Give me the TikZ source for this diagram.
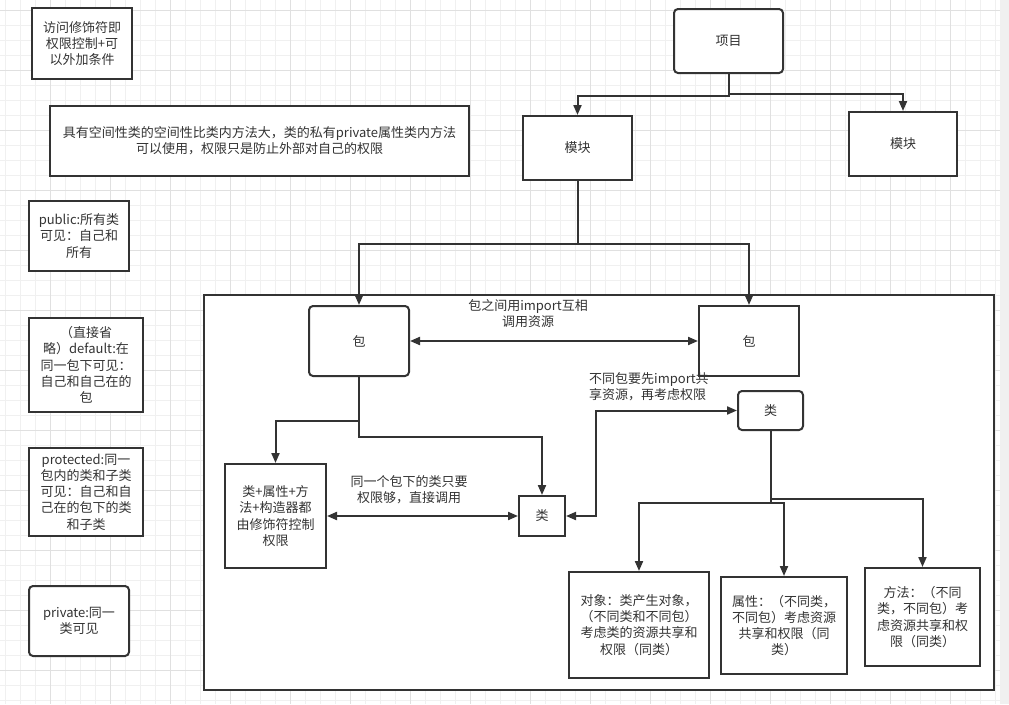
\documentclass[tikz,border=0pt]{standalone}
\usepackage{fontspec}
\setmainfont{Noto Sans CJK SC}
\usepackage{tikz}
\usetikzlibrary{arrows.meta, positioning, calc}
\definecolor{linegray}{RGB}{51,51,51}
\definecolor{gridminor}{RGB}{240,240,240}
\definecolor{gridmajor}{RGB}{224,224,224}
\definecolor{stripgray}{RGB}{240,240,240}

\begin{document}
\begin{tikzpicture}[x=1pt, y=-1pt, >={Triangle[length=10pt, width=8pt]},
    box/.style={draw=linegray, line width=2pt, fill=white, text=linegray, align=center,
        inner sep=0pt, font=\fontsize{13}{16.2}\selectfont},
    rbox/.style={box, rounded corners=4pt},
    sz/.style 2 args={minimum width=#1pt, minimum height=#2pt},
    link/.style={draw=linegray, line width=2pt},
    note/.style={text=linegray, align=center, inner sep=0pt, font=\fontsize{13}{16.2}\selectfont}]
    \useasboundingbox (0,0) rectangle (1009,704);
    % grid
    \fill[white] (0,0) rectangle (1000,704);
    \foreach \x in {5,20,...,995} \draw[gridminor] (\x,0) -- (\x,704);
    \foreach \y in {10,25,...,700} \draw[gridminor] (0,\y) -- (1000,\y);
    \foreach \x in {50,110,...,950} \draw[gridmajor] (\x,0) -- (\x,704);
    \foreach \y in {10,70,...,670} \draw[gridmajor] (0,\y) -- (1000,\y);
    \fill[stripgray] (1000,0) rectangle (1009,704);

    % left notes
    \node[box, sz={100}{71}] (acc) at (82,43.5) {访问修饰符即\\权限控制+可\\以外加条件};
    \node[box, sz={419}{70}] (space) at (259.5,141) {具有空间性类的空间性比类内方法大，类的私有private属性类内方法\\可以使用，权限只是防止外部对自己的权限};
    \node[box, sz={100}{70}] (pub) at (79,236) {public:所有类\\可见：自己和\\所有};
    \node[box, sz={114}{94}] (def) at (86,365) {（直接省\\略）default:在\\同一包下可见：\\自己和自己在的\\包};
    \node[box, sz={114}{88}] (prot) at (86,492) {protected:同一\\包内的类和子类\\可见：自己和自\\己在的包下的类\\和子类};
    \node[rbox, sz={100}{70}] (priv) at (79,621) {private:同一\\类可见};

    % project and modules
    \node[rbox, sz={109}{64}] (proj) at (728.5,41) {项目};
    \node[box, sz={109}{64}] (modA) at (577.5,148) {模块};
    \node[box, sz={108}{64}] (modB) at (903,144) {模块};

    % package area
    \node[box, sz={790}{395}] (pkgarea) at (599,492.5) {};
    \node[rbox, sz={100}{70}] (pkgA) at (359,341) {包};
    \node[box, sz={100}{70}] (pkgB) at (749,341) {包};
    \node[box, sz={101}{104}] (member) at (275.5,516) {类+属性+方\\法+构造器都\\由修饰符控制\\权限};
    \node[box, sz={46}{40}] (clsA) at (542,516) {类};
    \node[rbox, sz={65}{39}] (clsB) at (770.5,410.5) {类};
    \node[box, sz={140}{106}] (obj) at (639,625) {对象：类产生对象，\\（不同类和不同包）\\考虑类的资源共享和\\权限（同类）};
    \node[box, sz={126}{97}] (attr) at (784,625.5) {属性：（不同类，\\不同包）考虑资源\\共享和权限（同\\类）};
    \node[box, sz={115}{98}] (meth) at (922.5,617) {方法：（不同\\类，不同包）考\\虑资源共享和权\\限（同类）};

    % labels
    \node[note] (lblImport) at (528,313.5) {包之间用import互相\\调用资源};
    \node[note] (lblSame) at (409,490) {同一个包下的类只要\\权限够，直接调用};
    \node[note, align=left, anchor=west] (lblDiff) at (589,387) {不同包要先import共\\享资源，再考虑权限};

    % connectors
    \draw[link, ->] (proj.south) -- ++(0,22) -| (modA.north);
    \draw[link, ->] (proj.south) -- ++(0,20) -| (modB.north);
    \draw[link, ->] (modA.south) -- ++(0,63) -| (pkgA.north);
    \draw[link, ->] (modA.south) -- ++(0,63) -| (pkgB.north);
    \draw[link, <->] (pkgA) -- (pkgB);
    \draw[link, ->] (pkgA.south) -- ++(0,44) -| (member.north);
    \draw[link, ->] (pkgA.south) -- ++(0,60) -| (clsA.north);
    \draw[link, <->] (member) -- (clsA);
    \draw[link, <->] (clsA.east) -- ++(30,0) |- (clsB.west);
    \draw[link, ->] (clsB.south) -- ++(0,72) -| (obj.north);
    \draw[link, ->] (clsB.south) -- ++(0,72) -| (attr.north);
    \draw[link, ->] (clsB.south) -- ++(0,68) -| (meth.north);
\end{tikzpicture}
\end{document}
